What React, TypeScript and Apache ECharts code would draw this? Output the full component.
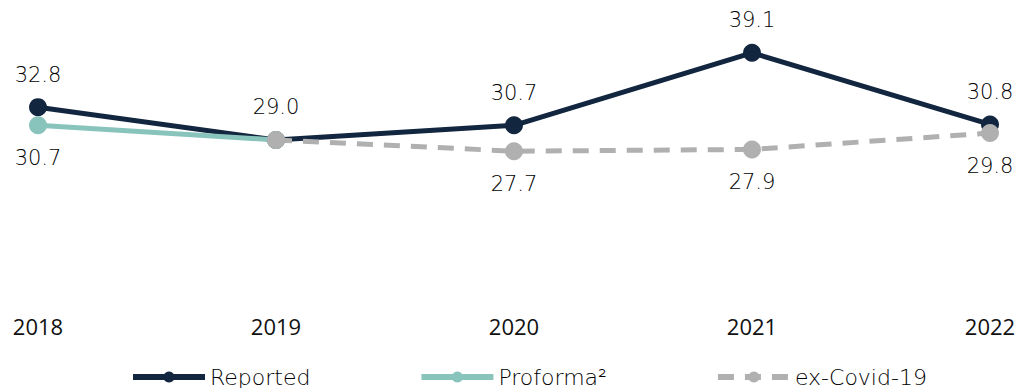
import React, { useEffect, useRef } from "react";
import * as echarts from "echarts";

const categories = ["2018", "2019", "2020", "2021", "2022"];
const reported = [32.8, 29.0, 30.7, 39.1, 30.8];
const proforma: (number | null)[] = [30.7, 29.0, null, null, null];
const exCovid: (number | null)[] = [null, 29.0, 27.7, 27.9, 29.8];

const NAVY = "#12263f";
const TEAL = "#88c4bc";
const GRAY = "#b0b0b0";

export default function App() {
  const ref = useRef<HTMLDivElement>(null);
  useEffect(() => {
    if (!ref.current) return;
    const chart = echarts.init(ref.current, undefined, { renderer: "svg" });
    const labelStyle = {
      show: true,
      fontFamily: "DejaVu Sans",
      fontSize: 21,
      fontWeight: 200 as any,
      color: "#000",
      distance: 13,
      formatter: (p: any) => (p.value == null ? "" : Number(p.value).toFixed(1)),
    };
    chart.setOption({
      animation: false,
      grid: { left: 38, right: 33, top: 45, bottom: 84, containLabel: false },
      xAxis: {
        type: "category",
        data: categories,
        boundaryGap: false,
        axisLine: { show: false },
        axisTick: { show: false },
        axisLabel: {
          margin: 11,
          fontFamily: "Open Sans",
          fontSize: 22,
          fontWeight: 500,
          color: "#111",
        },
      },
      yAxis: {
        type: "value",
        min: 10,
        max: 40,
        show: false,
        splitLine: { show: false },
      },
      legend: {
        bottom: -5,
        left: 125,
        itemWidth: 72,
        itemHeight: 14,
        itemGap: 108,
        itemTextGap: 0,
        lineStyle: { width: 6 },
        textStyle: { fontFamily: "DejaVu Sans", fontSize: 22, color: "#000", fontWeight: 200 as any },
        data: ["Reported", "Proforma²", "ex-Covid-19"],
      },
      series: [
        {
          name: "Reported",
          type: "line",
          data: reported,
          symbol: "circle",
          symbolSize: 18,
          lineStyle: { color: NAVY, width: 5 },
          itemStyle: { color: NAVY },
          label: { ...labelStyle, position: "top" },
        },
        {
          name: "Proforma²",
          type: "line",
          data: proforma,
          symbol: "circle",
          symbolSize: 18,
          lineStyle: { color: TEAL, width: 5 },
          itemStyle: { color: TEAL },
          label: {
            ...labelStyle,
            position: "bottom",
            formatter: (p: any) => (p.dataIndex === 0 ? Number(p.value).toFixed(1) : ""),
          },
        },
        {
          name: "ex-Covid-19",
          type: "line",
          data: exCovid,
          symbol: "circle",
          symbolSize: 18,
          lineStyle: { color: GRAY, width: 5, type: [16, 11] },
          itemStyle: { color: GRAY },
          label: {
            ...labelStyle,
            position: "bottom",
            formatter: (p: any) =>
              p.dataIndex >= 2 && p.value != null ? Number(p.value).toFixed(1) : "",
          },
        },
      ],
    });
    return () => chart.dispose();
  }, []);
  return <div ref={ref} style={{ width: 1023, height: 388, position: "absolute", left: 0, top: 0 }} />;
}
